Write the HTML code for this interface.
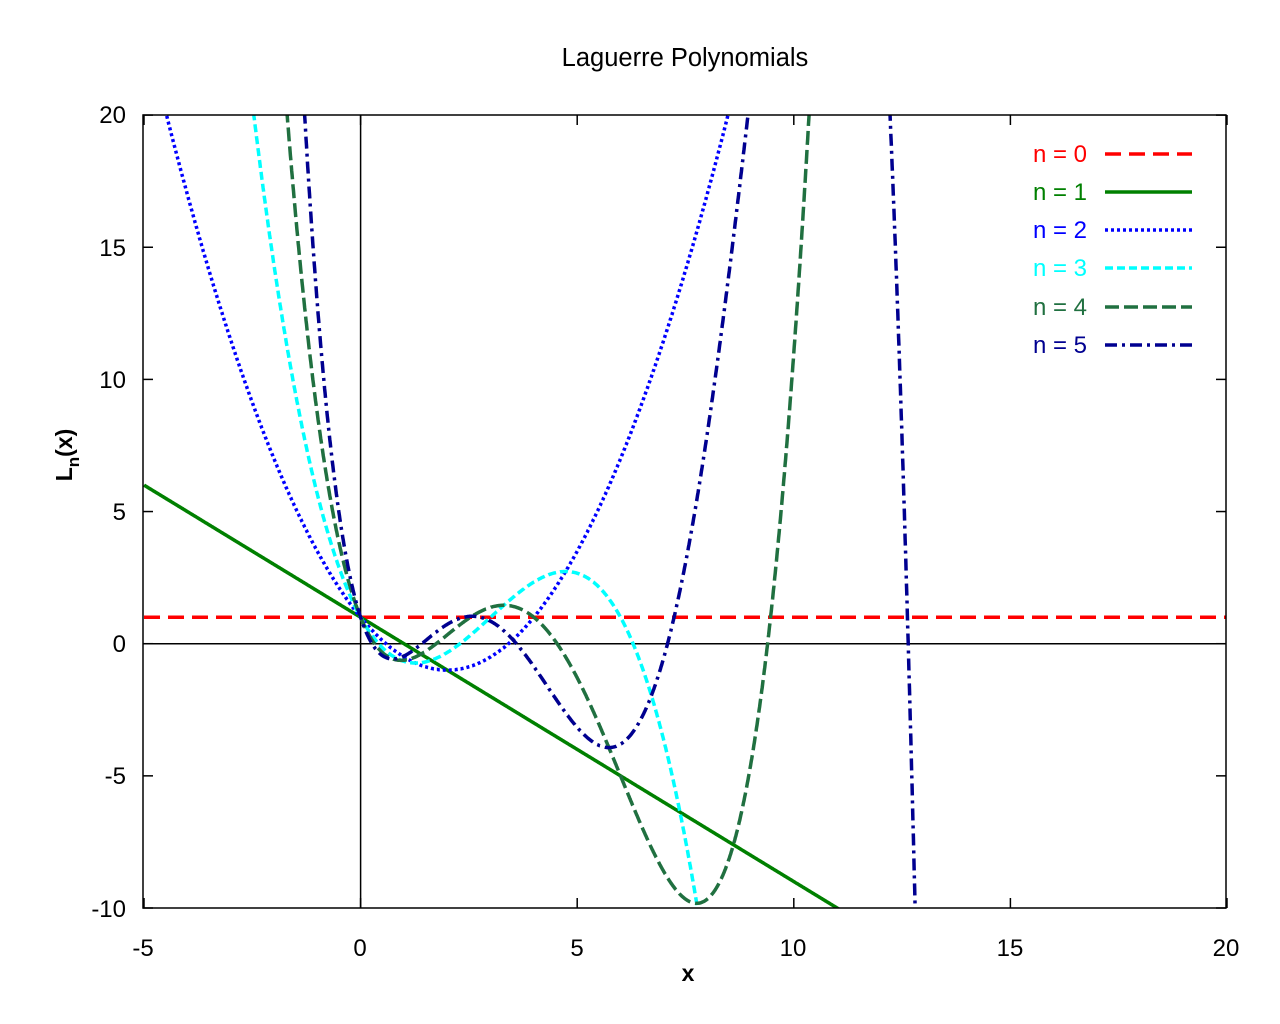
<!DOCTYPE html>
<html><head><meta charset="utf-8"><style>
html,body{margin:0;padding:0;background:#fff;overflow:hidden;width:1280px;height:1024px;}
svg{display:block;position:absolute;left:0;top:0;}
svg text{font-family:"Liberation Sans",sans-serif;}
</style></head><body>
<svg id="s" width="1280" height="1024" xmlns="http://www.w3.org/2000/svg">
<defs><clipPath id="c"><rect x="143" y="115" width="1083" height="793"/></clipPath></defs>
<rect width="1280" height="1024" fill="#fff"/>
<text x="685" y="66" font-size="25.5" text-anchor="middle">Laguerre Polynomials</text>
<g id="ticks" stroke="#000" stroke-width="1.5"></g>
<line x1="143" y1="643.7" x2="1226" y2="643.7" stroke="#000" stroke-width="1.5"/>
<line x1="360.6" y1="115" x2="360.6" y2="908" stroke="#000" stroke-width="1.5"/>
<g font-size="24" fill="#000">
<text x="126" y="123" text-anchor="end">20</text>
<text x="126" y="256" text-anchor="end">15</text>
<text x="126" y="388" text-anchor="end">10</text>
<text x="126" y="520" text-anchor="end">5</text>
<text x="126" y="652" text-anchor="end">0</text>
<text x="126" y="784" text-anchor="end">-5</text>
<text x="126" y="917" text-anchor="end">-10</text>
<text x="143" y="956" text-anchor="middle">-5</text>
<text x="360" y="956" text-anchor="middle">0</text>
<text x="577" y="956" text-anchor="middle">5</text>
<text x="793" y="956" text-anchor="middle">10</text>
<text x="1010" y="956" text-anchor="middle">15</text>
<text x="1226" y="956" text-anchor="middle">20</text>
</g>
<text x="688" y="981" font-size="23" font-weight="bold" text-anchor="middle">x</text>
<text transform="translate(72,455) rotate(-90)" font-size="23" font-weight="bold" text-anchor="middle">L<tspan font-size="17" dy="7">n</tspan><tspan dy="-7">(x)</tspan></text>
<g id="curves" clip-path="url(#c)" fill="none" stroke-width="3.5"></g>
<g font-size="24" text-anchor="end">
<text x="1087" y="162" fill="#ff0000">n = 0</text>
<text x="1087" y="200" fill="#008000">n = 1</text>
<text x="1087" y="238" fill="#0000ff">n = 2</text>
<text x="1087" y="276" fill="#00ffff">n = 3</text>
<text x="1087" y="315" fill="#207040">n = 4</text>
<text x="1087" y="353" fill="#000090">n = 5</text>
</g>
<g id="leg" stroke-width="3.5"></g>
<rect x="143" y="115" width="1083" height="793" fill="none" stroke="#000" stroke-width="1.5"/>
</svg>
<script>
function X(x){return 360.6+x*43.32;}
function Y(y){return 643.7-y*26.43;}
var t=document.getElementById("ticks"),h="";
for(var i=-5;i<=20;i+=5){h+='<line x1="'+X(i)+'" y1="908" x2="'+X(i)+'" y2="898"/><line x1="'+X(i)+'" y1="115" x2="'+X(i)+'" y2="125"/>';}
for(var j=-10;j<=20;j+=5){h+='<line x1="143" y1="'+Y(j)+'" x2="153" y2="'+Y(j)+'"/><line x1="1226" y1="'+Y(j)+'" x2="1216" y2="'+Y(j)+'"/>';}
t.innerHTML=h;
var L=[
function(x){return 1;},
function(x){return 1-x;},
function(x){return (x*x-4*x+2)/2;},
function(x){return (-x*x*x+9*x*x-18*x+6)/6;},
function(x){return (Math.pow(x,4)-16*x*x*x+72*x*x-96*x+24)/24;},
function(x){return (-Math.pow(x,5)+25*Math.pow(x,4)-200*x*x*x+600*x*x-600*x+120)/120;}
];
var st=[["#ff0000","16,8"],["#008000",""],["#0000ff","3,3"],["#00ffff","8,4"],["#207040","14,5"],["#000090","12,5,3,5"]];
var cg=document.getElementById("curves"),lg=document.getElementById("leg"),out="",lo="";
for(var k=0;k<6;k++){
 var d="";
 for(var n=0;n<=2500;n++){var x=-5+25*n/2500;var y=L[k](x);y=Math.max(-40,Math.min(60,y));d+=(n?"L":"M")+X(x).toFixed(1)+","+Y(y).toFixed(1);}
 out+='<path d="'+d+'" stroke="'+st[k][0]+'" stroke-dasharray="'+st[k][1]+'"/>';
 var ly=[154,192,230,268,307,345][k];
 lo+='<line x1="1105" y1="'+ly+'" x2="1192" y2="'+ly+'" stroke="'+st[k][0]+'" stroke-dasharray="'+st[k][1]+'"/>';
}
cg.innerHTML=out;lg.innerHTML=lo;
</script>
</body></html>
